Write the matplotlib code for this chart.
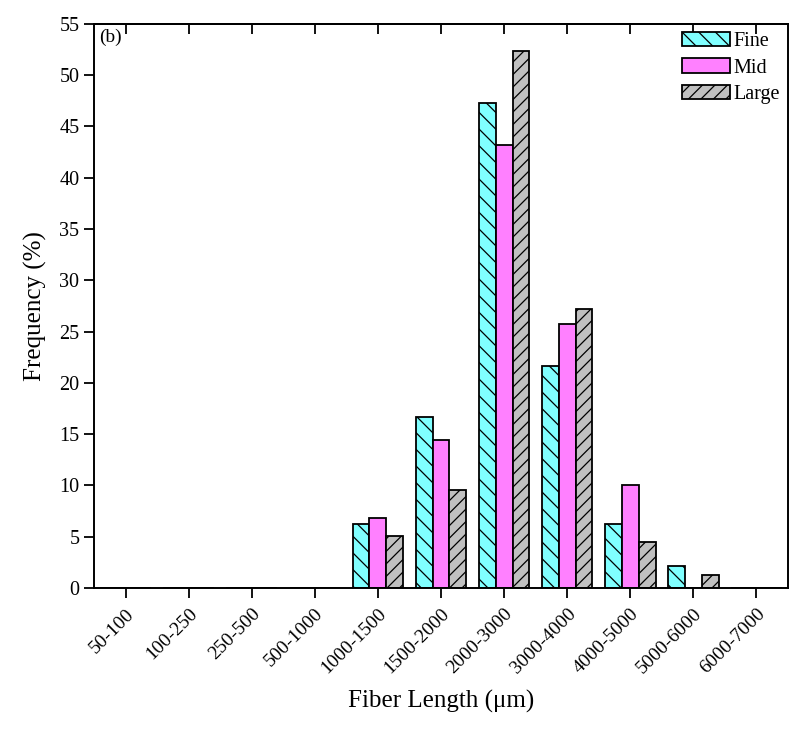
import matplotlib
matplotlib.use("Agg")
import matplotlib.pyplot as plt
import numpy as np

categories = ["50-100", "100-250", "250-500", "500-1000", "1000-1500", "1500-2000",
              "2000-3000", "3000-4000", "4000-5000", "5000-6000", "6000-7000"]
fine = [0, 0, 0, 0, 6.2, 16.7, 47.3, 21.6, 6.2, 2.1, 0]
mid = [0, 0, 0, 0, 6.8, 14.4, 43.2, 25.7, 10.0, 0, 0]
large = [0, 0, 0, 0, 5.1, 9.6, 52.3, 27.2, 4.5, 1.3, 0]

DPI = 150
S = 100.0 / DPI  # sizes below are written as points at 100 dpi

plt.rcParams['font.family'] = ['Liberation Serif', 'DejaVu Serif']
plt.rcParams['hatch.linewidth'] = 0.9 * S

fig = plt.figure(figsize=(793 / DPI, 729 / DPI), dpi=DPI)
ax = fig.add_axes([0.1185, 0.1934, 0.8752, 0.7741])

x = np.arange(len(categories))
w = 0.267
lw = 1.3 * S
ax.bar(x - w, fine, w, color='#80FFFF', edgecolor='black', hatch='\\\\\\', linewidth=lw, label='Fine')
ax.bar(x, mid, w, color='#FF80FF', edgecolor='black', linewidth=lw, label='Mid')
ax.bar(x + w, large, w, color='#C0C0C0', edgecolor='black', hatch='////', linewidth=lw, label='Large')

ax.set_xlim(-0.5, len(categories) - 0.5)
ax.set_ylim(0, 55)
ax.set_yticks(np.arange(0, 56, 5))
ax.set_xticks(x)
ax.set_xticklabels(categories, rotation=45, ha='right', rotation_mode='anchor')
ax.tick_params(axis='both', direction='out', width=1.3 * S, length=7.5 * S)
ax.tick_params(axis='y', labelsize=14.5 * S, pad=3 * S)
ax.tick_params(axis='x', labelsize=14 * S, pad=5 * S)
for s in ax.spines.values():
    s.set_linewidth(1.4 * S)

ax2 = ax.secondary_xaxis('top')
ax2.set_xticks(x)
ax2.set_xticklabels([])
ax2.tick_params(direction='in', length=7 * S, width=1.3 * S)
ax2.spines['top'].set_linewidth(1.4 * S)

ax.set_xlabel('Fiber Length (μm)', fontsize=18 * S, labelpad=9 * S)
ax.set_ylabel('Frequency (%)', fontsize=18 * S, labelpad=9 * S)
ax.text(0.008, 0.992, '(b)', transform=ax.transAxes, fontsize=14 * S, va='top', ha='left')

leg = ax.legend(loc='upper right', frameon=False, prop={'size': 14.5 * S}, handlelength=2.4,
                handleheight=0.75, handletextpad=0.15, borderaxespad=0.2, labelspacing=0.35,
                borderpad=0.2)
for p in leg.get_patches():
    p.set_linewidth(1.3 * S)

fig.savefig('out.png', dpi=DPI)
